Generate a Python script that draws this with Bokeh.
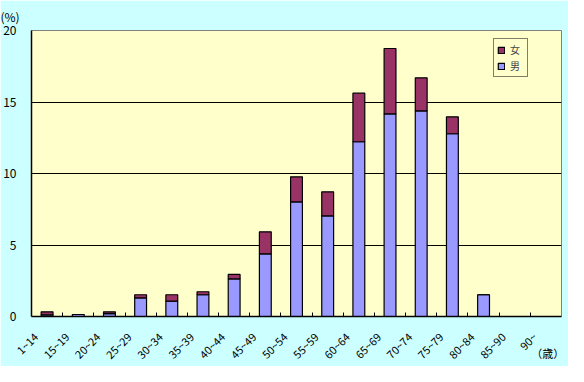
import numpy as np
from bokeh.plotting import figure
from bokeh.models import (Range1d, FixedTicker, Legend, LegendItem, Title,
                          ColumnDataSource)
from bokeh.embed import file_html
from bokeh.resources import INLINE

# ---- data ----
categories = ["1~14", "15~19", "20~24", "25~29", "30~34", "35~39", "40~44",
              "45~49", "50~54", "55~59", "60~64", "65~69", "70~74", "75~79",
              "80~84", "85~90", "90~"]
male = [0.12, 0.14, 0.20, 1.30, 1.07, 1.52, 2.63, 4.38, 8.02, 7.04, 12.22,
        14.17, 14.38, 12.78, 1.52, 0.0, 0.0]
female = [0.21, 0.0, 0.13, 0.22, 0.45, 0.21, 0.31, 1.54, 1.75, 1.68, 3.40,
          4.57, 2.31, 1.18, 0.0, 0.0, 0.0]
y_ticks = [0, 5, 10, 15, 20]
grid_ticks = [5, 10, 15]
y_unit = "(%)"
x_unit = "（歳）"

FONT = "Noto Sans CJK JP"
n = len(categories)
xpos = np.arange(n) + 0.5
shift = 0.37

src = ColumnDataSource(dict(x=xpos, male=male, female=female))

p = figure(width=568, height=366, output_backend="svg", toolbar_location=None,
           x_range=Range1d(0, n), y_range=Range1d(0, 20),
           min_border_left=31, min_border_right=7, min_border_top=30,
           min_border_bottom=50)
p.border_fill_color = "#CCFFFF"
p.background_fill_color = "#FFFFCC"
p.outline_line_color = "#808080"
p.outline_line_width = 1

rs = p.vbar_stack(["male", "female"], x="x", width=0.38, source=src,
                  color=["#9999FF", "#993366"], line_color="black",
                  line_width=1.2)
r_m, r_f = rs

# "(%)" above the value axis
t = Title(text=y_unit, align="left", offset=-31, standoff=11,
          text_font=FONT, text_font_size="12px", text_font_style="normal",
          text_color="black")
p.add_layout(t, "above")

# y axis
p.yaxis.ticker = FixedTicker(ticks=y_ticks)
p.yaxis.major_tick_out = 0
p.yaxis.major_tick_in = 0
p.yaxis.minor_tick_out = 0
p.yaxis.minor_tick_in = 0
p.yaxis.major_label_standoff = 15
p.yaxis.major_label_text_font = FONT
p.yaxis.major_label_text_font_size = "12px"
p.yaxis.major_label_text_color = "black"
p.yaxis.axis_line_color = "black"
p.yaxis.axis_line_width = 1.5

# x axis: labels slightly left of bar centres, ticks at category boundaries
label_pos = [float(v - shift) for v in xpos]
p.xaxis.ticker = FixedTicker(ticks=label_pos,
                             minor_ticks=[float(i) for i in range(1, n)])
p.xaxis.major_label_overrides = {lp: c for lp, c in zip(label_pos, categories)}
p.xaxis.major_label_orientation = np.pi / 4
p.xaxis.major_tick_out = 0
p.xaxis.major_tick_in = 0
p.xaxis.minor_tick_out = 0
p.xaxis.minor_tick_in = 4
p.xaxis.minor_tick_line_color = "black"
p.xaxis.major_label_standoff = 18
p.xaxis.major_label_text_font = FONT
p.xaxis.major_label_text_font_size = "11px"
p.xaxis.major_label_text_color = "black"
p.xaxis.axis_line_color = "black"
p.xaxis.axis_line_width = 1.5
# unit label at the right end of the category axis (ideographic spaces keep
# the centred label inside the axis area)
p.xaxis.axis_label = x_unit + "\u3000" * 3
p.xaxis.axis_label_align = "end"
p.xaxis.axis_label_standoff = -25
p.xaxis.axis_label_text_font = FONT
p.xaxis.axis_label_text_font_size = "11px"
p.xaxis.axis_label_text_font_style = "normal"
p.xaxis.axis_label_text_color = "black"

p.xgrid.grid_line_color = None
p.ygrid.ticker = FixedTicker(ticks=grid_ticks)
p.ygrid.grid_line_color = "black"
p.ygrid.grid_line_width = 1

legend = Legend(items=[LegendItem(label="女", renderers=[r_f]),
                       LegendItem(label="男", renderers=[r_m])],
                location=(462, 239))
legend.label_text_font = FONT
legend.label_text_font_size = "10px"
legend.glyph_width = 8
legend.glyph_height = 8
legend.label_height = 11
legend.label_width = 14
legend.label_standoff = 5
legend.spacing = 1
legend.padding = 3
legend.margin = 0
legend.border_line_color = "black"
legend.border_line_width = 1
legend.background_fill_color = "#FFFFCC"
legend.background_fill_alpha = 1
p.add_layout(legend)

open("out.html", "w").write(file_html(p, INLINE))
